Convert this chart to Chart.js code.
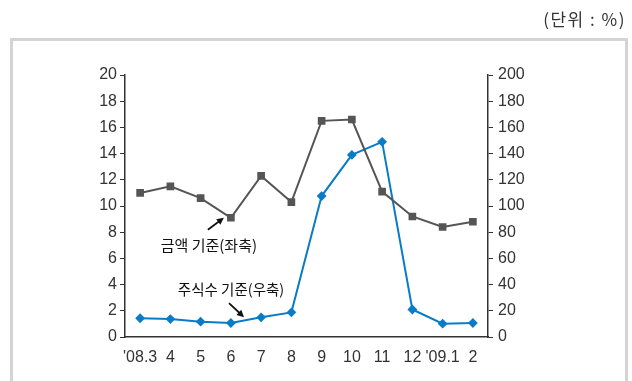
<!DOCTYPE html>
<html>
<head>
<meta charset="utf-8">
<script src="https://cdn.jsdelivr.net/npm/chart.js@4"></script>
<style>
  html, body { margin: 0; padding: 0; background: #fff; }
  #wrap { width: 632px; height: 381px; }
</style>
</head>
<body>
<div id="wrap"><canvas id="lineChart" width="632" height="381"></canvas></div>
<script>
// categories and series
const months = ["'08.3", '4', '5', '6', '7', '8', '9', '10', '11', '12', "'09.1", '2'];
const amountBasis = [11.0, 11.5, 10.6, 9.1, 12.3, 10.3, 16.5, 16.6, 11.1, 9.2, 8.4, 8.8];   // 좌축
const shareBasis = [14.3, 13.7, 11.7, 10.7, 15.0, 18.8, 107.6, 139, 149, 21, 10.2, 10.7];  // 우축
const leftTicks = [0, 2, 4, 6, 8, 10, 12, 14, 16, 18, 20];
const rightTicks = [0, 20, 40, 60, 80, 100, 120, 140, 160, 180, 200];

const FONT = "'Liberation Sans', 'Noto Sans CJK KR', sans-serif";
const KFONT = "'Noto Sans CJK KR', sans-serif";

// frame, unit label and the two annotations
const decorations = {
    id: 'decorations',
    beforeDraw(chart) {
        const ctx = chart.ctx;
        ctx.save();
        ctx.strokeStyle = '#d4d4d4';
        ctx.lineWidth = 3;
        ctx.strokeRect(11.5, 39.5, 615, 360);
        ctx.fillStyle = '#333';
        ctx.font = '17px ' + KFONT;
        ctx.letterSpacing = '1.5px';
        ctx.textAlign = 'right';
        ctx.textBaseline = 'middle';
        ctx.fillText('(단위 : %)', 626, 20);
        ctx.restore();
    },
    afterDatasetsDraw(chart) {
        const ctx = chart.ctx;
        const x = chart.scales.x;
        const yl = chart.scales.y;
        const yr = chart.scales.y1;
        ctx.save();
        ctx.fillStyle = '#333';
        ctx.strokeStyle = '#111';
        ctx.font = '15px ' + KFONT;
        ctx.textAlign = 'center';
        ctx.textBaseline = 'middle';

        // 금액 기준 -> gray point at '6'
        const gx = x.getPixelForValue(3);
        const gy = yl.getPixelForValue(amountBasis[3]);
        arrow(ctx, gx - 23, gy + 12, gx - 7, gy);
        ctx.fillText('금액 기준(좌축)', gx - 22, gy + 28);

        // 주식수 기준 -> blue line between '6' and '7'
        const bx = (x.getPixelForValue(3) + x.getPixelForValue(4)) / 2;
        const by = yr.getPixelForValue((shareBasis[3] + shareBasis[4]) / 2);
        arrow(ctx, bx - 17, by - 17, bx - 2, by - 3);
        ctx.font = '14.5px ' + KFONT;
        ctx.fillText('주식수 기준(우축)', bx - 15, by - 31);
        ctx.restore();
    }
};

function arrow(ctx, x0, y0, x1, y1) {
    const a = Math.atan2(y1 - y0, x1 - x0);
    ctx.lineWidth = 1.8;
    ctx.beginPath();
    ctx.moveTo(x0, y0);
    ctx.lineTo(x1 - 5 * Math.cos(a), y1 - 5 * Math.sin(a));
    ctx.stroke();
    ctx.beginPath();
    ctx.moveTo(x1, y1);
    ctx.lineTo(x1 - 7 * Math.cos(a) + 3.5 * Math.sin(a), y1 - 7 * Math.sin(a) - 3.5 * Math.cos(a));
    ctx.lineTo(x1 - 7 * Math.cos(a) - 3.5 * Math.sin(a), y1 - 7 * Math.sin(a) + 3.5 * Math.cos(a));
    ctx.closePath();
    ctx.fillStyle = '#111';
    ctx.fill();
}

const chart = new Chart(document.getElementById('lineChart').getContext('2d'), {
    type: 'line',
    data: {
        labels: months,
        datasets: [{
            label: '금액 기준(좌축)',
            data: amountBasis,
            yAxisID: 'y',
            borderColor: '#555555',
            backgroundColor: '#555555',
            borderWidth: 2,
            pointStyle: 'rect',
            pointRadius: 4,
            pointHoverRadius: 4,
            tension: 0
        }, {
            label: '주식수 기준(우축)',
            data: shareBasis,
            yAxisID: 'y1',
            borderColor: '#0a7cc6',
            backgroundColor: '#0a7cc6',
            borderWidth: 2,
            pointStyle: 'rectRot',
            pointRadius: 3.5,
            pointHoverRadius: 3.5,
            tension: 0
        }]
    },
    options: {
        responsive: false,
        animation: false,
        layout: { padding: { top: 75, left: 0, right: 0, bottom: 0 } },
        plugins: {
            legend: { display: false },
            tooltip: { enabled: false }
        },
        scales: {
            x: {
                offset: true,
                grid: { display: false },
                border: { color: '#333', width: 1.5 },
                ticks: { color: '#333', font: { family: FONT, size: 16 }, padding: 3, maxRotation: 0, autoSkip: false },
                afterFit(s) { s.height = 44; }
            },
            y: {
                position: 'left',
                min: 0, max: 20,
                afterBuildTicks(s) { s.ticks = leftTicks.map(v => ({ value: v })); },
                grid: { drawOnChartArea: false, drawTicks: true, tickLength: 5, color: '#333' },
                border: { color: '#333', width: 1.5 },
                ticks: { color: '#333', font: { family: FONT, size: 16 }, padding: 3 },
                afterFit(s) { s.width = 125; }
            },
            y1: {
                position: 'right',
                min: 0, max: 200,
                afterBuildTicks(s) { s.ticks = rightTicks.map(v => ({ value: v })); },
                grid: { drawOnChartArea: false, drawTicks: true, tickLength: 5, color: '#333' },
                border: { color: '#333', width: 1.5 },
                ticks: { color: '#333', font: { family: FONT, size: 16 }, padding: 5 },
                afterFit(s) { s.width = 144; }
            }
        }
    },
    plugins: [decorations]
});
</script>
</body>
</html>
